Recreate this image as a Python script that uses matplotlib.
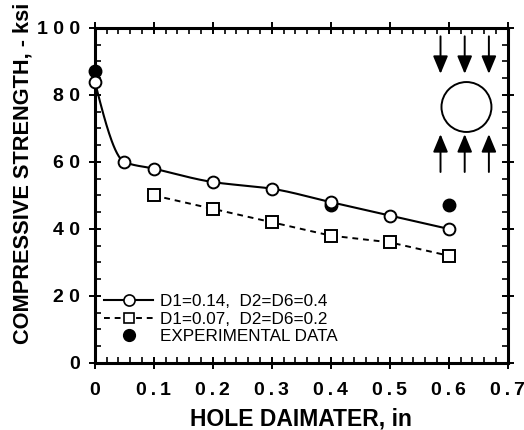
import numpy as np
import matplotlib
matplotlib.use("Agg")
import matplotlib.pyplot as plt
from matplotlib.patches import Ellipse
from matplotlib.ticker import MultipleLocator

# ---- data ----
x_model1 = [0.0, 0.05, 0.1, 0.2, 0.3, 0.4, 0.5, 0.6]
y_model1 = [84, 60, 58, 54, 52, 48, 44, 40]
x_model2 = [0.1, 0.2, 0.3, 0.4, 0.5, 0.6]
y_model2 = [50, 46, 42, 38, 36, 32]
x_exp = [0.0, 0.4, 0.6]
y_exp = [87, 47, 47]
xticks = [0, 0.1, 0.2, 0.3, 0.4, 0.5, 0.6, 0.7]
xticklabels = ["0", "0\u2009.\u20091", "0\u2009.\u20092", "0\u2009.\u20093", "0\u2009.\u20094",
               "0\u2009.\u20095", "0\u2009.\u20096", "0\u2009.\u20097"]
yticks = [0, 20, 40, 60, 80, 100]
yticklabels = ["0", "2 0", "4 0", "6 0", "8 0", "1 0 0"]
legend_labels = ["D1=0.14,  D2=D6=0.4", "D1=0.07,  D2=D6=0.2", "EXPERIMENTAL DATA"]


def pchip(x, y, xs):
    x = np.asarray(x, float); y = np.asarray(y, float)
    h = np.diff(x); d = np.diff(y) / h
    n = len(x); m = np.zeros(n)
    for k in range(1, n - 1):
        if d[k - 1] * d[k] > 0:
            w1 = 2 * h[k] + h[k - 1]; w2 = h[k] + 2 * h[k - 1]
            m[k] = (w1 + w2) / (w1 / d[k - 1] + w2 / d[k])
    m[0] = ((2 * h[0] + h[1]) * d[0] - h[0] * d[1]) / (h[0] + h[1])
    if np.sign(m[0]) != np.sign(d[0]):
        m[0] = 0
    m[-1] = ((2 * h[-1] + h[-2]) * d[-1] - h[-1] * d[-2]) / (h[-1] + h[-2])
    if np.sign(m[-1]) != np.sign(d[-1]):
        m[-1] = 0
    ys = np.empty_like(xs)
    idx = np.clip(np.searchsorted(x, xs) - 1, 0, n - 2)
    for i, xv in enumerate(xs):
        k = idx[i]; t = (xv - x[k]) / h[k]
        h00 = 2 * t**3 - 3 * t**2 + 1; h10 = t**3 - 2 * t**2 + t
        h01 = -2 * t**3 + 3 * t**2; h11 = t**3 - t**2
        ys[i] = h00 * y[k] + h10 * h[k] * m[k] + h01 * y[k + 1] + h11 * h[k] * m[k + 1]
    return ys


plt.rcParams['font.family'] = ['Liberation Sans', 'DejaVu Sans']

fig = plt.figure(figsize=(5.24, 4.30), dpi=100)
ax = fig.add_axes([0.181, 0.156, 0.788, 0.779])

xs = np.linspace(0, 0.6, 400)
ax.plot(xs, pchip(x_model1, y_model1, xs), color='black', lw=1.5, zorder=2)
ax.plot(x_model1, y_model1, 'o', mfc='white', mec='black', mew=1.4, ms=8.5, zorder=3,
        clip_on=False)
l1, = ax.plot([], [], '-o', color='black', mfc='white', mec='black', mew=1.2, ms=8, lw=1.5)

ax.plot(x_model2, y_model2, '--s', color='black', mfc='white', mec='black', mew=1.4,
        ms=8, lw=1.4, dashes=(3, 2.5), zorder=3)
l2, = ax.plot([], [], '--s', color='black', mfc='white', mec='black', mew=1.2, ms=7,
              lw=1.4, dashes=(3, 2.5))

ax.plot(x_exp, y_exp, 'o', color='black', ms=9, zorder=2.5, clip_on=False)
l3, = ax.plot([], [], 'o', color='black', ms=8.5)

# inset sketch: hole under compression
ax.add_patch(Ellipse((0.630, 76.4), 0.0847, 14.9, fill=False, ec='black', lw=1.4))
for xa in [0.586, 0.627, 0.668]:
    ax.annotate('', xy=(xa, 86.3), xytext=(xa, 97.5),
                arrowprops=dict(arrowstyle='-|>,head_length=0.6,head_width=0.25',
                                color='black', lw=1.4, mutation_scale=18, shrinkA=0, shrinkB=0))
    ax.annotate('', xy=(xa, 68.3), xytext=(xa, 57.0),
                arrowprops=dict(arrowstyle='-|>,head_length=0.6,head_width=0.25',
                                color='black', lw=1.4, mutation_scale=18, shrinkA=0, shrinkB=0))

ax.set_xlim(0, 0.7)
ax.set_ylim(0, 100)
ax.set_xticks(xticks)
ax.set_xticklabels(xticklabels, fontsize=14, fontweight='bold')
ax.set_yticks(yticks)
ax.set_yticklabels(yticklabels, fontsize=14, fontweight='bold')
ax.xaxis.set_minor_locator(MultipleLocator(0.02))
ax.yaxis.set_minor_locator(MultipleLocator(5))
ax.tick_params(which='major', direction='inout', length=9, width=1.4,
               top=True, right=True)
ax.tick_params(axis='x', which='major', pad=9)
ax.tick_params(axis='y', which='major', pad=6)
ax.tick_params(which='minor', direction='in', length=4, width=1.2, top=True, right=True)
for s in ax.spines.values():
    s.set_linewidth(2.2)

ax.set_xlabel("HOLE DAIMATER, in", fontsize=16.5, fontweight='bold', labelpad=6)
ax.set_ylabel("COMPRESSIVE STRENGTH, - ksi", fontsize=15.7, fontweight='bold')
ax.yaxis.set_label_coords(-0.148, 0.565)

leg = ax.legend([l1, l2, l3], legend_labels, loc='lower left',
                bbox_to_anchor=(0.005, 0.035), frameon=False, fontsize=12.3,
                handlelength=2.9, handletextpad=0.4, labelspacing=0.15,
                borderaxespad=0.0)

fig.savefig("out.png", dpi=100)
